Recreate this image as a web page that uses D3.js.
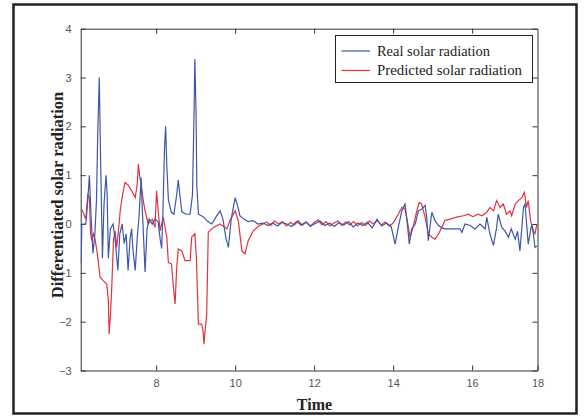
<!DOCTYPE html>
<html>
<head>
<meta charset="utf-8">
<script src="https://d3js.org/d3.v7.min.js"></script>
<style>
  body { margin: 0; background: #fff; }
  .tick text { font-family: "Liberation Sans", Arial, sans-serif; font-size: 11px; fill: #555; }
</style>
</head>
<body>
<div id="chart"></div>
<script>
// Real solar radiation (blue)
var realTime = [6.10, 6.12, 6.22, 6.27, 6.31, 6.35, 6.40, 6.45, 6.49, 6.52, 6.56, 6.59, 6.62, 6.64, 6.68,
  6.73, 6.76, 6.79, 6.84, 6.91, 6.96, 7.03, 7.08, 7.14, 7.19, 7.24, 7.29, 7.34, 7.38, 7.41,
  7.47, 7.52, 7.57, 7.62, 7.65, 7.72, 7.77, 7.82, 7.90, 7.97, 8.05, 8.10, 8.14, 8.17, 8.21,
  8.24, 8.27, 8.31, 8.38, 8.45, 8.52, 8.56, 8.60, 8.65, 8.76, 8.86, 8.92, 8.96, 8.98, 9.01,
  9.03, 9.07, 9.19, 9.31, 9.41, 9.52, 9.62, 9.69, 9.77, 9.83, 9.90, 10.00, 10.07, 10.12, 10.22,
  10.33, 10.45, 10.58, 10.71, 10.83, 10.95, 11.07, 11.19, 11.31, 11.43, 11.55, 11.67, 11.79, 11.91,
  12.03, 12.15, 12.27, 12.39, 12.51, 12.63, 12.75, 12.87, 12.99, 13.11, 13.23, 13.35, 13.47, 13.59,
  13.71, 13.83, 13.95, 14.05, 14.13, 14.22, 14.30, 14.35, 14.41, 14.47, 14.56, 14.64, 14.72, 14.81,
  14.85, 14.89, 14.98, 15.06, 15.15, 15.23, 15.31, 15.69, 15.74, 15.82, 15.95, 16.07, 16.20, 16.33,
  16.37, 16.45, 16.54, 16.62, 16.66, 16.75, 16.83, 16.92, 16.99, 17.09, 17.15, 17.21, 17.30, 17.34,
  17.42, 17.51, 17.55, 17.59, 17.64];
var realValues = [-0.8, 0, 0, 0.5, 1.0, 0.2, -0.6, -0.2, 0.5, 1.8, 3.0, 1.5, 0.2, -0.7, 0.4,
  1.0, 0.6, -0.7, -0.1, 0, -0.3, -0.95, -0.2, 0, -0.4, -0.2, -0.95, -0.3, -0.1, -0.5,
  -0.95, -0.3, 0.2, 0.95, 0.3, -0.98, -0.1, 0.1, 0, 0.1, 0.05, -0.3, -0.5, 0.2, 1.5,
  2.0, 1.2, 0.5, 0.25, 0.2, 0.6, 0.9, 0.6, 0.25, 0.2, 0.2, 0.6, 2.3, 3.38, 2.3,
  0.8, 0.2, 0.15, 0.05, 0.0, 0.15, 0.27, 0.1, -0.3, -0.48, 0.1, 0.54, 0.35, 0.17, 0.1,
  0.05, 0.07, 0.0, 0.02, -0.03, 0.02, -0.04, 0.03, 0.0, -0.05, 0.05, -0.02, 0.04, -0.04,
  0.01, 0.06, -0.03, 0.02, -0.05, 0.03, -0.02, 0.05, -0.06, 0.02, -0.03, 0.04, -0.08, 0.1,
  -0.04, 0.02, -0.05, -0.41, -0.07, 0.27, 0.41, 0.07, -0.41, -0.1, 0.0, 0.27, 0.3, 0.38,
  0.14, -0.34, 0.24, 0.07, -0.03, -0.08, -0.1, -0.1, -0.17, 0.0, -0.03, -0.1, 0.0, -0.1,
  0.14, -0.2, -0.44, -0.07, 0.2, -0.07, -0.14, -0.27, -0.1, -0.31, -0.15, -0.55, 0.34, 0.41,
  -0.41, 0.0, -0.2, -0.48, -0.45];

// Predicted solar radiation (red)
var predTime = [6.12, 6.17, 6.22, 6.27, 6.31, 6.34, 6.37, 6.41, 6.45, 6.50, 6.54, 6.58, 6.66, 6.75, 6.79,
  6.81, 6.84, 6.87, 6.92, 6.96, 7.00, 7.05, 7.09, 7.15, 7.21, 7.29, 7.38, 7.47, 7.52, 7.55,
  7.58, 7.63, 7.67, 7.72, 7.80, 7.90, 7.97, 8.01, 8.06, 8.10, 8.18, 8.27, 8.31, 8.39, 8.43,
  8.48, 8.52, 8.56, 8.65, 8.73, 8.86, 8.90, 8.98, 9.02, 9.07, 9.15, 9.19, 9.21, 9.25, 9.28,
  9.32, 9.45, 9.62, 9.79, 9.87, 10.00, 10.08, 10.17, 10.25, 10.33, 10.46, 10.58, 10.71,
  10.80, 10.90, 11.00, 11.10, 11.20, 11.30, 11.40, 11.50, 11.60, 11.70, 11.80, 11.90, 12.00,
  12.10, 12.20, 12.30, 12.40, 12.50, 12.60, 12.70, 12.80, 12.90, 13.00, 13.10, 13.20, 13.30,
  13.40, 13.50, 13.60, 13.70, 13.80, 13.90, 14.00, 14.13, 14.22, 14.30, 14.35, 14.43, 14.51,
  14.60, 14.66, 14.72, 14.81, 14.89, 14.98, 15.06, 15.15, 15.23, 15.31, 15.44, 15.61, 15.78,
  15.90, 16.02, 16.15, 16.25, 16.37, 16.45, 16.54, 16.62, 16.71, 16.79, 16.87, 16.96, 17.00,
  17.09, 17.17, 17.26, 17.32, 17.38, 17.42, 17.48, 17.55, 17.59, 17.64];
var predValues = [0.3, 0.2, 0.1, 0.6, 0.55, -0.2, -0.34, -0.2, -0.3, -0.55, -0.8, -1.09, -1.16, -1.23, -1.57,
  -2.25, -1.9, -1.43, -0.34, -0.14, -0.48, -0.1, 0.27, 0.6, 0.85, 0.8, 0.68, 0.54, 0.8, 1.23,
  1.0, 0.75, 0.5, 0.27, 0.0, 0.1, -0.07, 0.68, 0.2, -0.14, 0.14, -0.27, -0.79, -0.82, -1.23,
  -1.64, -0.89, -0.51, -0.55, -0.75, -0.75, -0.27, -0.2, -0.7, -2.05, -2.05, -2.2, -2.46, -2.1, -1.84,
  -0.17, -0.07, 0.0, -0.1, 0.07, 0.27, 0.07, -0.55, -0.61, -0.34, -0.14, -0.05, 0.0,
  0.04, -0.03, 0.06, 0.0, 0.05, -0.04, 0.03, -0.02, 0.07, -0.03, 0.04, -0.05, 0.03,
  0.08, -0.02, 0.05, -0.04, 0.02, 0.06, -0.03, 0.04, -0.02, 0.05, -0.04, 0.03, -0.03,
  0.06, 0.0, 0.07, -0.02, 0.04, -0.04, 0.02, 0.2, 0.34, 0.31, 0.1, -0.27, -0.05,
  0.27, 0.44, 0.41, 0.14, -0.2, -0.27, -0.31, -0.2, -0.07, 0.07, 0.1, 0.14, 0.17,
  0.2, 0.15, 0.2, 0.17, 0.24, 0.34, 0.27, 0.48, 0.34, 0.41, 0.2, 0.27, 0.17,
  0.41, 0.48, 0.54, 0.65, 0.34, 0.48, 0.07, -0.14, -0.2, 0.0];

// axis ticks
var xTickValues = [8, 10, 12, 14, 16, 17.655];
var xTickLabels = ["8", "10", "12", "14", "16", "18"];
var yTickValues = [-3, -2, -1, 0, 1, 2, 3, 4];

var seriesNames = ["Real solar radiation", "Predicted solar radiation"];
var seriesColors = ["#3d56aa", "#e5323c"];

var svgWidth = 587;
var svgHeight = 416;

var plot = { left: 80.7, right: 537.5, top: 28.7, bottom: 370.5 };

var svg = d3.select("#chart")
  .append("svg")
  .attr("width", svgWidth)
  .attr("height", svgHeight);

// outer frame
svg.append("rect")
  .attr("x", 13.5)
  .attr("y", 4.5)
  .attr("width", 563)
  .attr("height", 409)
  .attr("fill", "none")
  .attr("stroke", "#222")
  .attr("stroke-width", 2.5);

var x = d3.scaleLinear()
  .domain([6.09, 17.655])
  .range([plot.left, plot.right]);

var y = d3.scaleLinear()
  .domain([-3, 4])
  .range([plot.bottom, plot.top]);

// bottom axis, ticks pointing inward
var bottomAxis = d3.axisBottom(x)
  .tickValues(xTickValues)
  .tickFormat((d, i) => xTickLabels[i])
  .tickSizeInner(-5)
  .tickSizeOuter(0)
  .tickPadding(9);

var leftAxis = d3.axisLeft(y)
  .tickValues(yTickValues)
  .tickFormat(d3.format("d"))
  .tickSizeInner(-5)
  .tickSizeOuter(0)
  .tickPadding(9);

var topAxis = d3.axisTop(x)
  .tickValues(xTickValues.slice(0, 5))
  .tickFormat("")
  .tickSizeInner(-5)
  .tickSizeOuter(0);

var rightAxis = d3.axisRight(y)
  .tickValues(yTickValues)
  .tickFormat("")
  .tickSizeInner(-5)
  .tickSizeOuter(0);

var axes = [
  [bottomAxis, `translate(0, ${plot.bottom})`],
  [leftAxis, `translate(${plot.left}, 0)`],
  [topAxis, `translate(0, ${plot.top})`],
  [rightAxis, `translate(${plot.right}, 0)`]
];

axes.forEach(function(a) {
  var g = svg.append("g")
    .attr("transform", a[1])
    .call(a[0]);
  g.select(".domain").attr("stroke", "#333");
  g.selectAll(".tick line").attr("stroke", "#333");
});

// clip lines to the plot box
svg.append("clipPath")
  .attr("id", "clip")
  .append("rect")
  .attr("x", plot.left)
  .attr("y", plot.top)
  .attr("width", plot.right - plot.left)
  .attr("height", plot.bottom - plot.top);

var line = d3.line()
  .x(d => x(d[0]))
  .y(d => y(d[1]));

var realData = d3.zip(realTime, realValues);
var predData = d3.zip(predTime, predValues);

var lineGroup = svg.append("g").attr("clip-path", "url(#clip)");

lineGroup.append("path")
  .datum(predData)
  .attr("d", line)
  .attr("fill", "none")
  .attr("stroke", seriesColors[1])
  .attr("stroke-width", 1.2);

lineGroup.append("path")
  .datum(realData)
  .attr("d", line)
  .attr("fill", "none")
  .attr("stroke", seriesColors[0])
  .attr("stroke-width", 1.2);

// legend
var legend = svg.append("g");

legend.append("rect")
  .attr("x", 335.5)
  .attr("y", 35.5)
  .attr("width", 197)
  .attr("height", 47)
  .attr("fill", "#fff")
  .attr("stroke", "#222")
  .attr("stroke-width", 1);

var legendTextWidths = [113, 145];

seriesNames.forEach(function(name, i) {
  var ly = 51 + i * 19.5;
  legend.append("line")
    .attr("x1", 341.5)
    .attr("x2", 370)
    .attr("y1", ly)
    .attr("y2", ly)
    .attr("stroke", seriesColors[i])
    .attr("stroke-width", 1.2);
  legend.append("text")
    .attr("x", 377)
    .attr("y", ly + 4.5)
    .attr("font-family", "'Liberation Serif', 'Times New Roman', serif")
    .attr("font-size", "14px")
    .attr("textLength", legendTextWidths[i])
    .attr("lengthAdjust", "spacingAndGlyphs")
    .attr("fill", "#222")
    .text(name);
});

// axis titles
svg.append("text")
  .attr("x", 314.5)
  .attr("y", 410)
  .attr("text-anchor", "middle")
  .attr("font-family", "'Liberation Serif', 'Times New Roman', serif")
  .attr("font-weight", "bold")
  .attr("font-size", "16px")
  .attr("fill", "#222")
  .text("Time");

svg.append("text")
  .attr("transform", "rotate(-90)")
  .attr("x", -195)
  .attr("y", 63)
  .attr("text-anchor", "middle")
  .attr("font-family", "'Liberation Serif', 'Times New Roman', serif")
  .attr("font-weight", "bold")
  .attr("font-size", "16.5px")
  .attr("fill", "#222")
  .text("Differentiated solar radiation");
</script>
</body>
</html>
